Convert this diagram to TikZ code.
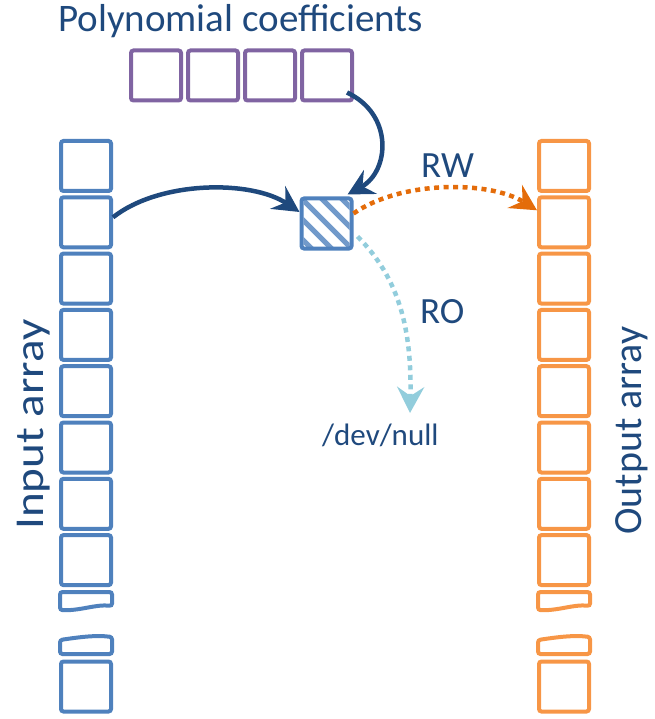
\documentclass[tikz,border=0pt]{standalone}
\usepackage{fontspec}
\setmainfont{Carlito}
\usetikzlibrary{arrows.meta}
\definecolor{inblue}{HTML}{4F81BD}
\definecolor{outorange}{HTML}{F79646}
\definecolor{coefpurple}{HTML}{8064A2}
\definecolor{navy}{HTML}{1F497D}
\definecolor{rwcol}{HTML}{E46C0A}
\definecolor{rocol}{HTML}{92CDDC}
\begin{document}
\begin{tikzpicture}[x=1pt,y=-1pt,
  cell/.style={draw, line width=4pt, rounded corners=2.5pt, minimum size=50pt, inner sep=0pt},
  incell/.style={cell, draw=inblue},
  outcell/.style={cell, draw=outorange},
  coefcell/.style={cell, draw=coefpurple},
  frag/.style={line width=4pt, rounded corners=2.5pt},
  tip/.style={-{Stealth[length=26pt,width=27pt,inset=9pt]}},
  flow/.style={draw=navy, line width=4.5pt, tip},
  access/.style={line width=4.5pt, dash pattern=on 5pt off 4.5pt, tip},
  lbl/.style={text=navy, inner sep=0pt},
  big/.style={lbl, font=\fontsize{39}{40}\selectfont},
  mid/.style={lbl, font=\fontsize{37}{38}\selectfont},
  small/.style={lbl, font=\fontsize{31}{32}\selectfont},
]
\useasboundingbox (0,0) rectangle (654,719);

% title and coefficient cells
\node[big, anchor=base west] (title) at (58,32) {Polynomial coefficients};
\foreach \i/\x in {1/156,2/213,3/270,4/327}
  \node[coefcell] (c\i) at (\x,75.5) {};

% input and output arrays
\foreach \i in {1,...,8} {
  \node[incell]  (in\i)  at (86, {166+56.3*(\i-1)}) {};
  \node[outcell] (out\i) at (564,{166+56.3*(\i-1)}) {};
}
\node[incell]  (in9)  at (86,686.5) {};
\node[outcell] (out9) at (564,686.5) {};

% torn cells marking the elided part of each array
\foreach \dx/\col in {0/inblue,478/outorange} {
  \begin{scope}[xshift=\dx]
    \draw[frag, draw=\col] (60,592) -- (112,592) -- (112,606)
      .. controls (96,604) and (80,611) .. (60,610) -- cycle;
    \draw[frag, draw=\col] (60,654) -- (60,640)
      .. controls (80,637) and (96,635) .. (112,637) -- (112,654) -- cycle;
  \end{scope}
}

% hatched working cell
\begin{scope}
  \clip (303.5,200.5) rectangle (349.5,246.5);
  \foreach \c in {-40,-20,0,20,40}
    \draw[inblue!80, line width=5pt] ({326.5+\c-40},{223.5-40}) -- ({326.5+\c+40},{223.5+40});
\end{scope}
\node[incell] (h) at (326.5,223.5) {};

% labels
\node[lbl, font=\fontsize{41}{42}\selectfont, rotate=90, xscale=1.15, anchor=base west]
  (inlabel) at (43,530) {Input array};
\node[lbl, font=\fontsize{40}{41}\selectfont, rotate=90, anchor=base west]
  (outlabel) at (641,535) {Output array};
\node[mid, anchor=base west] (rw) at (421,178) {RW};
\node[mid, anchor=base west] (ro) at (420,323) {RO};
\node[small, anchor=base west] (null) at (322,445) {/dev/null};
\coordinate (sink) at (410,413);

% data movement
\draw[flow] ([xshift=-7pt,yshift=10pt]c4.south east)
  .. controls +(47,22) and +(42,-23) .. ([xshift=-6pt,yshift=2pt]h.north east);
\draw[flow] ([yshift=5pt]in2.east)
  .. controls +(47,-37) and +(-48,-32) .. ([yshift=11.5pt]h.west);
\draw[access, draw=rwcol] ([yshift=10pt]h.east)
  .. controls +(47,-33) and +(-48,-30) .. ([yshift=12pt]out2.west);
\draw[access, draw=rocol] ([xshift=4pt,yshift=14pt]h.south east)
  .. controls +(42,42) and +(2,-83) .. (sink);
\end{tikzpicture}
\end{document}
